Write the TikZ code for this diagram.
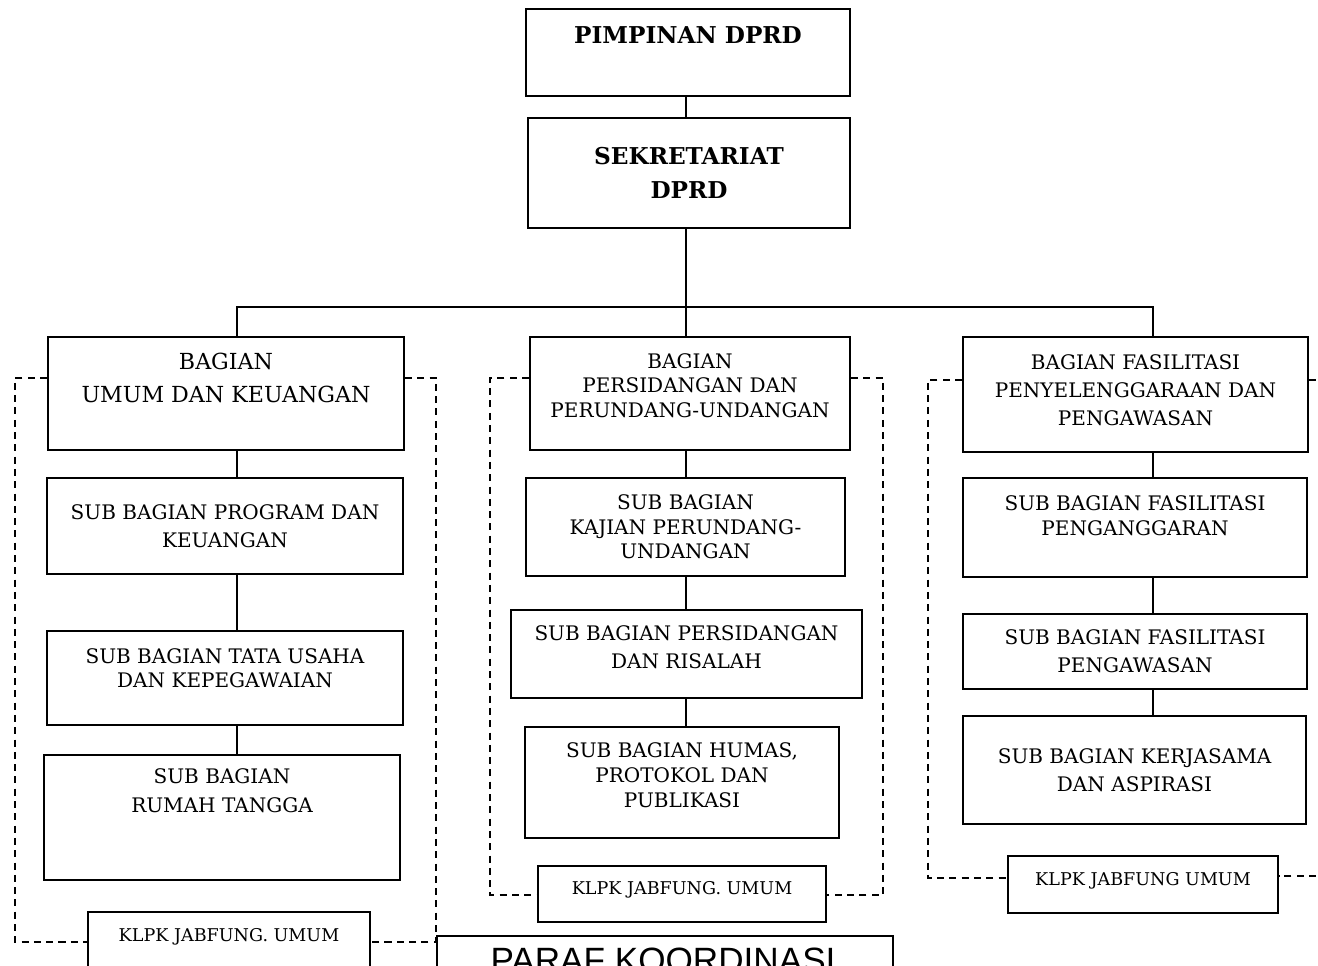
\documentclass[tikz,border=0pt]{standalone}
\usepackage{fontspec}
\setmainfont{DejaVu Serif}
\newfontfamily\parafont{Liberation Sans}
\usetikzlibrary{positioning,calc}

\begin{document}
\begin{tikzpicture}[x=0.02cm, y=-0.02cm,
  box/.style={draw, line width=1.1pt, inner sep=0pt, align=center,
    font=\fontsize{11.4}{14}\selectfont},
  wh/.style 2 args={minimum width=#1*0.02cm, minimum height=#2*0.02cm},
  up/.style={text depth=#1*0.04cm},
  head/.style={font=\fontsize{13.2}{19.5}\selectfont\bfseries},
  klpk/.style={font=\fontsize{10}{11}\selectfont},
  group/.style={line width=0.8pt, dash pattern=on 4pt off 3pt},
  link/.style={line width=1.1pt}]

  \useasboundingbox (0,0) rectangle (1318,966);
  \clip (0,0) rectangle (1318,966);

  % top of the chart
  \node[box, head, wh={324}{87}, up=17.5] (pim) at (688,52.5) {PIMPINAN DPRD};
  \node[box, head, wh={322}{110}] (sek) at (689,173) {SEKRETARIAT\\DPRD};

  % bus under the secretariat
  \coordinate (bus) at (686,307);
  \coordinate (busl) at (237,307);
  \coordinate (busr) at (1153,307);

  % left column
  \node[box, wh={356}{113}, up=16, font=\fontsize{12.6}{18.8}\selectfont] (lbag) at (226,393.5) {BAGIAN\\UMUM DAN KEUANGAN};
  \node[box, wh={356}{96}] (lsub1) at (225,526) {SUB BAGIAN PROGRAM DAN\\[2pt]KEUANGAN};
  \node[box, wh={356}{94}, up=10] (lsub2) at (225,678) {SUB BAGIAN TATA USAHA\\DAN KEPEGAWAIAN};
  \node[box, wh={356}{125}, up=27] (lsub3) at (222,817.5) {SUB BAGIAN\\[2pt]RUMAH TANGGA};
  \node[box, klpk, wh={282}{88}, up=21] (lklpk) at (229,956) {KLPK JABFUNG. UMUM};

  % middle column
  \node[box, wh={320}{113}, up=8] (mbag) at (690,393.5) {BAGIAN\\PERSIDANGAN DAN\\PERUNDANG-UNDANGAN};
  \node[box, wh={319}{98}] (msub1) at (685.5,527) {SUB BAGIAN\\KAJIAN PERUNDANG-\\UNDANGAN};
  \node[box, wh={351}{88}, up=7] (msub2) at (686.5,654) {SUB BAGIAN PERSIDANGAN\\[2pt]DAN RISALAH};
  \node[box, wh={314}{111}, up=7.5] (msub3) at (682,782.5) {SUB BAGIAN HUMAS,\\PROTOKOL DAN\\PUBLIKASI};
  \node[box, klpk, wh={288}{56}, up=6] (mklpk) at (682,894) {KLPK JABFUNG. UMUM};

  % right column
  \node[box, wh={345}{115}, up=4.5] (rbag) at (1135.5,394.5) {BAGIAN FASILITASI\\[2pt]PENYELENGGARAAN DAN\\[2pt]PENGAWASAN};
  \node[box, wh={344}{99}, up=12] (rsub1) at (1135,527.5) {SUB BAGIAN FASILITASI\\PENGANGGARAN};
  \node[box, wh={344}{75}] (rsub2) at (1135,651.5) {SUB BAGIAN FASILITASI\\[2pt]PENGAWASAN};
  \node[box, wh={343}{108}] (rsub3) at (1134.5,770) {SUB BAGIAN KERJASAMA\\[2pt]DAN ASPIRASI};
  \node[box, klpk, wh={270}{57}, up=5.5] (rklpk) at (1143,884.5) {KLPK JABFUNG UMUM};

  % coordination box, cut by the page edge
  \node[draw, line width=1pt, inner sep=0pt, wh={456}{200}, anchor=north] (paraf) at (665,935) {};
  \node[font=\parafont\fontsize{20}{22}\selectfont, anchor=base] (paraft) at (663,972) {PARAF KOORDINASI};

  % solid lines of command
  \draw[link] (pim.south -| bus) -- (sek.north -| bus);
  \draw[link] (sek.south -| bus) -- (bus);
  \draw[link] (busl |- lbag.north) -- (busl) -- (busr) -- (busr |- rbag.north);
  \draw[link] (bus) -- (bus |- mbag.north);

  \draw[link] (lbag.south -| busl) -- (lsub1.north -| busl);
  \draw[link] (lsub1.south -| busl) -- (lsub2.north -| busl);
  \draw[link] (lsub2.south -| busl) -- (lsub3.north -| busl);

  \draw[link] (mbag.south -| bus) -- (msub1.north -| bus);
  \draw[link] (msub1.south -| bus) -- (msub2.north -| bus);
  \draw[link] (msub2.south -| bus) -- (msub3.north -| bus);

  \draw[link] (rbag.south -| busr) -- (rsub1.north -| busr);
  \draw[link] (rsub1.south -| busr) -- (rsub2.north -| busr);
  \draw[link] (rsub2.south -| busr) -- (rsub3.north -| busr);

  % dashed frames round each department
  \draw[group] (lbag.west |- 0,378) -- (15,378) -- (15,942) -- (lklpk.west |- 0,942);
  \draw[group] (lbag.east |- 0,378) -- (436,378) -- (436,942) -- (lklpk.east |- 0,942);

  \draw[group] (mbag.west |- 0,378) -- (490,378) -- (490,895) -- (mklpk.west |- 0,895);
  \draw[group] (mbag.east |- 0,378) -- (883,378) -- (883,895) -- (mklpk.east |- 0,895);

  \draw[group] (rbag.west |- 0,380) -- (928,380) -- (928,878) -- (rklpk.west |- 0,878);
  \draw[group] (rbag.east |- 0,380) -- (1335,380) -- (1335,876) -- (rklpk.east |- 0,876);

\end{tikzpicture}
\end{document}
